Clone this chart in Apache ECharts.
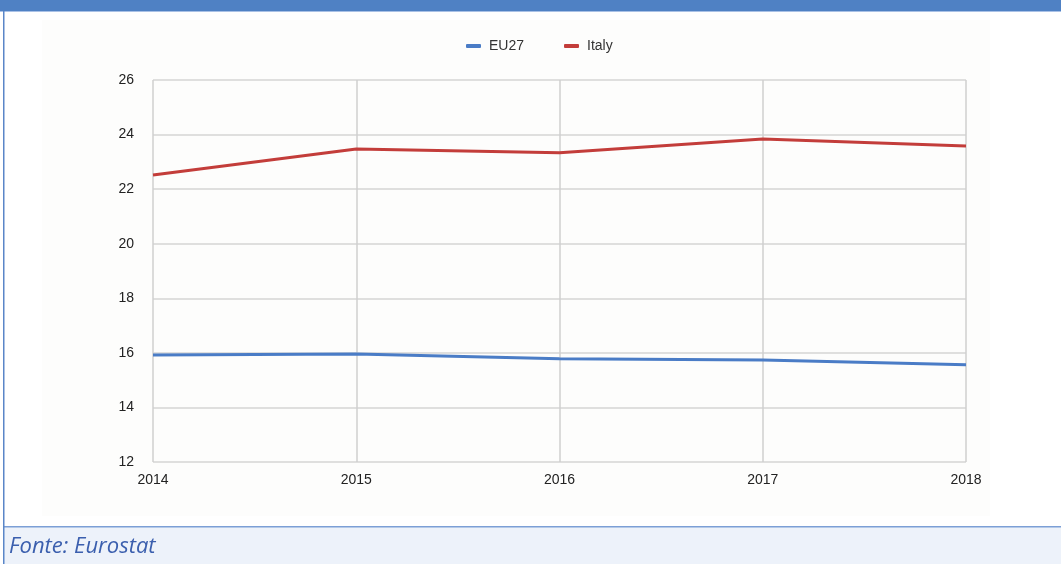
<!DOCTYPE html>
<html><head><meta charset="utf-8">
<script src="https://cdn.jsdelivr.net/npm/echarts@6/dist/echarts.min.js"></script>
<style>html,body{margin:0;padding:0;background:#fff}#c{width:1061px;height:564px}</style>
</head><body><div id="c"></div>
<script>
const years = ['2014','2015','2016','2017','2018'];
const eu27 = [15.92, 15.96, 15.78, 15.74, 15.56];
const italy = [22.52, 23.47, 23.33, 23.84, 23.58];
const yTicks = {min: 12, max: 26, interval: 2};

const chart = echarts.init(document.getElementById('c'), null, {renderer: 'canvas'});
chart.setOption({
  animation: false,
  backgroundColor: '#fff',
  graphic: [
    {type: 'rect', shape: {x: 42, y: 20, width: 948, height: 496}, style: {fill: '#fdfdfc'}, z: -10},
    {type: 'rect', shape: {x: 0, y: 0, width: 1061, height: 11}, style: {fill: '#4f81c4'}, z: -5},
    {type: 'rect', shape: {x: 0, y: 11, width: 1061, height: 1}, style: {fill: '#a9c1e6'}, z: -5},
    {type: 'rect', shape: {x: 3, y: 527, width: 1058, height: 37}, style: {fill: '#edf2fa'}, z: -5},
    {type: 'rect', shape: {x: 3, y: 526, width: 1058, height: 1.5}, style: {fill: '#7c9fd6'}, z: -4},
    {type: 'rect', shape: {x: 3, y: 11, width: 1.5, height: 553}, style: {fill: '#5a86c8'}, z: -4}
  ],
  title: {
    text: 'Fonte: Eurostat', left: 4, top: 531,
    textStyle: {fontFamily: 'Open Sans', fontStyle: 'italic', fontWeight: 'normal', fontSize: 22, color: '#3b5fae'}
  },
  legend: {
    data: ['EU27', 'Italy'], top: 34, left: 461, itemWidth: 15, itemHeight: 4, itemGap: 40,
    icon: 'roundRect',
    textStyle: {fontFamily: 'Liberation Sans', fontSize: 14, color: '#333', padding: [0, 0, 0, 3]}
  },
  grid: {left: 153, right: 95, top: 80, bottom: 102},
  xAxis: {
    type: 'category', data: years, boundaryGap: false,
    axisLine: {show: false}, axisTick: {show: false},
    axisLabel: {fontFamily: 'Liberation Sans', fontSize: 14, color: '#222', margin: 11},
    splitLine: {show: true, lineStyle: {color: '#cfcfcf', width: 1.5}}
  },
  yAxis: {
    type: 'value', min: yTicks.min, max: yTicks.max, interval: yTicks.interval,
    axisLine: {show: false}, axisTick: {show: false},
    axisLabel: {fontFamily: 'Liberation Sans', fontSize: 14, color: '#222', margin: 19},
    splitLine: {lineStyle: {color: '#d4d4d4', width: 1.5}}
  },
  series: [
    {name: 'EU27', type: 'line', data: eu27, smooth: false, showSymbol: false,
      lineStyle: {color: '#4a7cc6', width: 3}, itemStyle: {color: '#4a7cc6'}},
    {name: 'Italy', type: 'line', data: italy, smooth: false, showSymbol: false,
      lineStyle: {color: '#c33d3a', width: 3}, itemStyle: {color: '#c33d3a'}}
  ]
});
</script></body></html>
